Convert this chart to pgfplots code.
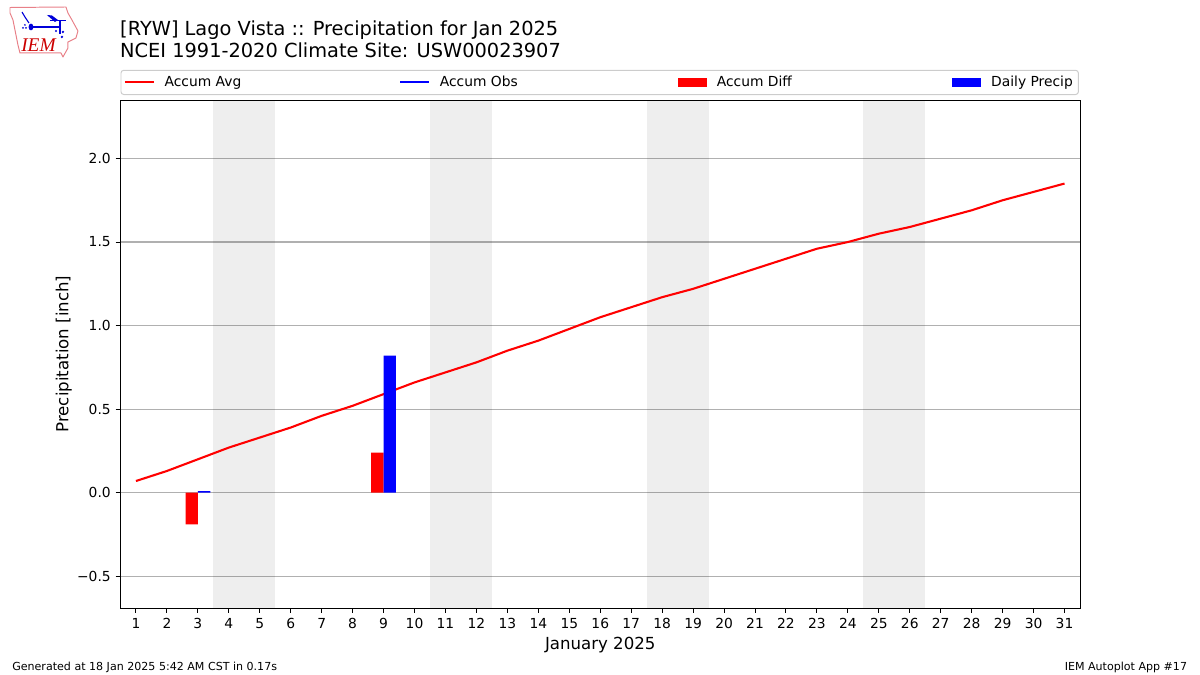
\documentclass[border=0pt]{standalone}
\usepackage{pgfplots}
\pgfplotsset{compat=1.18}
\usepackage{fontspec}
\setmainfont{DejaVu Sans}
\definecolor{gridc}{HTML}{B0B0B0}
\definecolor{legc}{HTML}{CCCCCC}
\definecolor{logor}{HTML}{E88088}
\pgfplotstableread{
x y
1 0.07
2 0.13
3 0.20
4 0.27
5 0.33
6 0.39
7 0.46
8 0.52
9 0.59
10 0.66
11 0.72
12 0.78
13 0.85
14 0.91
15 0.98
16 1.05
17 1.11
18 1.17
19 1.22
20 1.28
21 1.34
22 1.40
23 1.46
24 1.50
25 1.55
26 1.59
27 1.64
28 1.69
29 1.75
30 1.80
31 1.85
}\avg
\begin{document}
\begin{tikzpicture}
\path[use as bounding box] (0,0) rectangle (12in,-6.75in);
\begin{scope}[x=0.01in,y=-0.01in]
% logo
\draw[logor,line width=0.7bp,line join=round] (10,7.5)--(66,7)--(68,13)--(72,20)--(78,31)--(76,38)--(68,42)--(68,48)--(63,57)--(61,53)--(20,53)--(18,45)--(13,20)--(10,13)--cycle;
\draw[blue!85!black,line width=1.3bp] (31,27)--(60,27);
\draw[blue!85!black,line width=1.1bp] (60,21)--(60,34);
\draw[blue!85!black,line width=0.9bp] (50,20.5)--(66,20.5);
\fill[blue!85!black] (47,15)--(52,15.5)--(58,20)--(55,22)--cycle;
\fill[blue!85!black] (31,27) ellipse (2.4 and 3.4);
\draw[blue!85!black,line width=0.8bp] (22,12)--(25,17)--(29,23);
\fill[blue!85!black] (23,28) circle (1) (26,28) circle (1) (25,25) circle (1);
\fill[blue!85!black] (56,31) circle (1.1) (63,32) circle (1.3) (62,37) circle (1.3);
\node[anchor=base west,inner sep=0pt,text=red!80!black,font=\fontsize{14}{14}\selectfont\fontspec{Liberation Serif}\itshape] at (21,52) {IEM};
% titles
\node[anchor=base west,inner sep=0pt,font=\fontsize{14}{14}\selectfont] at (120,36) {[RYW] Lago Vista :: Precipitation for Jan 2025};
\node[anchor=base west,inner sep=0pt,font=\fontsize{14}{14}\selectfont] at (120,58) {NCEI 1991-2020 Climate Site: USW00023907};
% footer
\node[anchor=base west,inner sep=0pt,font=\fontsize{8}{8}\selectfont] at (12,671) {Generated at 18 Jan 2025 5:42 AM CST in 0.17s};
\node[anchor=base east,inner sep=0pt,font=\fontsize{8}{8}\selectfont] at (1188,671) {IEM Autoplot App \#17};
\end{scope}
\begin{axis}[
  at={(1.205in,-6.08in)},anchor=south west,
  scale only axis,width=9.595in,height=5.08in,
  xmin=0.5,xmax=31.5,ymin=-0.69,ymax=2.35,
  xtick={1,...,31},
  ytick={-0.5,0,0.5,1,1.5,2},
  yticklabels={−0.5,0.0,0.5,1.0,1.5,2.0},
  xtick pos=bottom,ytick pos=left,
  tick align=outside,
  major tick length=3.5bp,
  every tick/.style={black,line width=0.7bp},
  axis line style={black,line width=0.7bp},
  ymajorgrids,
  grid style={gridc,line width=0.8bp},
  /pgf/number format/assume math mode=true,
  tick label style={font=\fontsize{10}{10}\selectfont},
  xticklabel style={yshift=-0.3bp},
  xlabel={January 2025},
  ylabel={Precipitation [inch]},
  label style={font=\fontsize{12}{12}\selectfont},
  xlabel style={yshift=1bp},
  ylabel style={yshift=-3bp},
  legend columns=4,
  legend cell align=left,
  legend style={at={(0,1)},anchor=south west,yshift=3.6bp,xshift=0bp,
    draw=legc,line width=0.7bp,rounded corners=2bp,
    font=\fontsize{10}{10}\selectfont,
    inner xsep=2bp,inner ysep=2.2bp,
    /tikz/every even column/.style={column sep=0pt}},
]
\addplot[forget plot,fill=black,fill opacity=0.067,draw=none] coordinates {(3.5,-0.69)(3.5,2.35)(5.5,2.35)(5.5,-0.69)} --cycle;
\addplot[forget plot,fill=black,fill opacity=0.067,draw=none] coordinates {(10.5,-0.69)(10.5,2.35)(12.5,2.35)(12.5,-0.69)} --cycle;
\addplot[forget plot,fill=black,fill opacity=0.067,draw=none] coordinates {(17.5,-0.69)(17.5,2.35)(19.5,2.35)(19.5,-0.69)} --cycle;
\addplot[forget plot,fill=black,fill opacity=0.067,draw=none] coordinates {(24.5,-0.69)(24.5,2.35)(26.5,2.35)(26.5,-0.69)} --cycle;
\addplot[red,line width=1.5bp,line join=round,
  legend image code/.code={\draw[sharp corners,red,line width=1.5bp] (0,0)--(20.9bp,0);}] table[x=x,y=y] {\avg};
\addlegendentry{\makebox[171.8bp][l]{\hspace{5bp}Accum Avg}}
\addlegendimage{legend image code/.code={\draw[sharp corners,blue,line width=1.5bp] (0,0)--(20.9bp,0);}}
\addlegendentry{\makebox[174.6bp][l]{\hspace{5bp}Accum Obs}}
\addplot[ybar,bar width=0.4,bar shift=-0.2,fill=red,draw=none,
  legend image code/.code={\fill[sharp corners,red] (0,-3.3bp) rectangle (20.9bp,3.3bp);}] coordinates {(3,-0.19)(9,0.24)};
\addlegendentry{\makebox[172.6bp][l]{\hspace{5bp}Accum Diff}}
\addplot[ybar,bar width=0.4,bar shift=0.2,fill=blue,draw=none,
  legend image code/.code={\fill[sharp corners,blue] (0,-3.3bp) rectangle (20.9bp,3.3bp);}] coordinates {(3,0.01)(9,0.82)};
\addlegendentry{\hspace{5bp}Daily Precip\hspace{1.4bp}}
\end{axis}
\end{tikzpicture}
\end{document}
